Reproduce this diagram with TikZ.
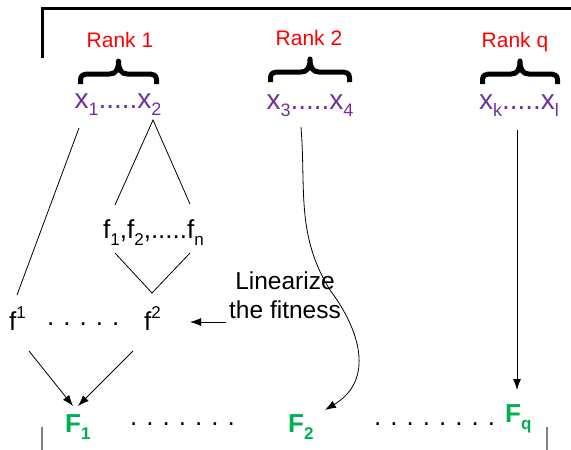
\documentclass[tikz,border=0pt]{standalone}
\usepackage{fontspec}
\setmainfont{Liberation Sans}
\usetikzlibrary{arrows.meta}
\definecolor{xpurple}{RGB}{112,48,160}
\definecolor{fgreen}{RGB}{0,176,80}
\definecolor{tickgray}{RGB}{128,128,128}
\newcommand\sbs[2]{\raisebox{-0.28em}{\fontsize{#1}{#1}\selectfont #2}}
\newcommand\sps[2]{\raisebox{0.45em}{\fontsize{#1}{#1}\selectfont #2}}
\newcommand\dd{\kern9pt.}
% curly brace opening upward: centre x, bottom y, half width
\newcommand\rankbrace[3]{%
  \draw[rbrace, shift={(#1,#2)}]
    (-#3,0) -- (-#3,-4) .. controls (-#3,-9) and (-#3+3,-10) .. (-#3+9,-10)
    -- (-9,-10) .. controls (-3,-10) and (0,-14) .. (0,-23)
    .. controls (0,-14) and (3,-10) .. (9,-10)
    -- (#3-9,-10) .. controls (#3-3,-10) and (#3,-9) .. (#3,-4) -- (#3,0);}
\begin{document}
\begin{tikzpicture}[x=1pt,y=-1pt,
  ranklbl/.style={inner sep=0pt, anchor=base, text=red, font=\fontsize{21}{25}\selectfont},
  xlbl/.style={inner sep=0pt, anchor=base, text=xpurple, font=\fontsize{28}{33}\selectfont},
  flbl/.style={inner sep=0pt, anchor=base west, font=\fontsize{26}{31}\selectfont},
  Flbl/.style={inner sep=0pt, anchor=base west, text=fgreen, font=\bfseries\fontsize{26}{31}\selectfont},
  rbrace/.style={line width=5pt, line join=round},
  conn/.style={line width=0.8pt},
  arr/.style={line width=0.8pt, -{Latex[length=11pt,width=8pt]}},
  frame/.style={line width=3pt},
  tick/.style={tickgray, line width=1.2pt}]
\useasboundingbox (0,0) rectangle (571,450);

% top bracket
\draw[frame] (42,58) -- (42,8.5) -- (571,8.5);

% rank labels
\node[ranklbl] (r1) at (120,47) {Rank 1};
\node[ranklbl] (r2) at (309,45) {Rank 2};
\node[ranklbl] (rq) at (515,47) {Rank q};

% braces
\rankbrace{118.5}{84}{38}
\rankbrace{310}{82}{39.5}
\rankbrace{520}{84}{37.5}

% variable groups
\node[xlbl] (xa) at (118,108) {x\sbs{18}{1}.....x\sbs{18}{2}};
\node[xlbl] (xb) at (310,109) {x\sbs{18}{3}.....x\sbs{18}{4}};
\node[xlbl] (xc) at (519,109) {x\sbs{18}{k}.....x\sbs{18}{l}};

% objectives
\node[flbl] (fs) at (103,238) {f\sbs{17}{1},f\sbs{17}{2},.....f\sbs{17}{n}};
\node[flbl] (fa) at (9,330) {f\sps{17}{1}};
\node[flbl] (fdots) at (47,325) {.\dd\dd\dd\dd};
\node[flbl] (fb) at (144,330) {f\sps{17}{2}};

\node[align=center, inner sep=0pt, anchor=base, font=\fontsize{24.5}{29}\selectfont] (lin) at (285,318) {Linearize\\the fitness};

% fitness
\node[Flbl] (F1) at (65,432) {F\sbs{17}{1}};
\node[Flbl] (F2) at (288,432) {F\sbs{17}{2}};
\node[Flbl] (Fq) at (505,422) {F\sbs{17}{q}};
\node[flbl] (Fd1) at (130,425) {.\dd\dd\dd\dd\dd\dd};
\node[flbl] (Fd2) at (374,425) {.\dd\dd\dd\dd\dd\dd\dd};

% connector end points
\coordinate (x1b) at (79,128);
\coordinate (x2b) at (153,120);
\coordinate (x3b) at (301,127);
\coordinate (xlb) at (517,130);
\coordinate (fsL) at (115,205);
\coordinate (fsR) at (190,204);
\coordinate (fsLb) at (115,253);
\coordinate (fsRb) at (190,253);
\coordinate (f1t) at (17,295);
\coordinate (f2t) at (152,293);
\coordinate (f1b) at (29,351);
\coordinate (f2b) at (133,351);
\coordinate (F1a) at (73,406);
\coordinate (F1b) at (78,406);
\coordinate (F2t) at (325,410);
\coordinate (Fqt) at (517,390);
\coordinate (linL) at (226,322);
\coordinate (f2r) at (190,322);

% connectors
\draw[conn] (x1b) -- (f1t);
\draw[conn] (fsL) -- (x2b) -- (fsR);
\draw[conn] (fsLb) -- (f2t) -- (fsRb);
\draw[arr] (f1b) -- (F1a);
\draw[arr] (f2b) -- (F1b);
\draw[arr] (linL) -- (f2r);
\draw[arr] (x3b) .. controls (306,190) and (296,235) .. (330,290)
               .. controls (360,330) and (375,380) .. (F2t);
\draw[arr] (xlb) -- (Fqt);

% bottom ticks
\draw[tick] (42,427) -- (42,450);
\draw[tick] (547,427) -- (547,450);
\end{tikzpicture}
\end{document}
